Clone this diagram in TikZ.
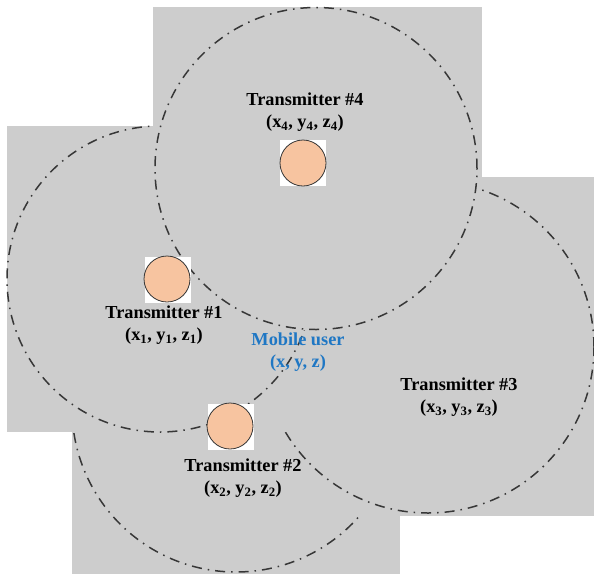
\documentclass[tikz,border=0pt]{standalone}
\usepackage{fontspec}
\setmainfont{Liberation Serif}
\definecolor{zonegray}{RGB}{205,205,205}
\definecolor{txfill}{RGB}{247,196,160}
\definecolor{ringcol}{RGB}{55,55,55}
\definecolor{mobcol}{RGB}{31,119,196}
\begin{document}
\begin{tikzpicture}[x=1pt,y=-1pt,
  zone/.style={fill=zonegray, draw=none},
  ring/.style={draw=ringcol, line width=1.5pt, dash pattern=on 10pt off 6pt on 1.5pt off 6pt},
  txbg/.style={rectangle, fill=white, draw=none, minimum size=46pt, inner sep=0pt},
  txc/.style={circle, fill=txfill, draw=ringcol, line width=0.8pt, minimum size=46pt, inner sep=0pt},
  lbl/.style={font=\bfseries\fontsize{18.3}{22.5}\selectfont, align=center, inner sep=0pt}
]
\useasboundingbox (0,0) rectangle (594,574);
% zone 2 (bottom)
\fill[zone] (72,244) rectangle (400,574);
\draw[ring] (236,408) circle[radius=164pt];
% zone 3
\fill[zone] (262,177) rectangle (594,516);
\draw[ring] (428,347) circle[radius=166pt];
% zone 1
\fill[zone] (7,126) rectangle (313,432);
\draw[ring] (160,279) circle[radius=153pt];
% zone 4
\fill[zone] (153,7) rectangle (482,330);
\draw[ring] (316,168.5) circle[radius=161pt];
% transmitters
\node[txbg] (b4) at (303,163) {};
\node[txc] (t4) at (303,163) {};
\node[txbg] (b1) at (168,280) {};
\node[txc] (t1) at (167,279) {};
\node[txbg] (b2) at (231,427) {};
\node[txc] (t2) at (230,426) {};
% labels
\node[lbl] (l4) at (305,112) {Transmitter \#4\\(x\textsubscript{4}, y\textsubscript{4}, z\textsubscript{4})};
\node[lbl] (l1) at (164,325) {Transmitter \#1\\(x\textsubscript{1}, y\textsubscript{1}, z\textsubscript{1})};
\node[lbl, text=mobcol] (lm) at (298,352) {Mobile user\\(x, y, z)};
\node[lbl] (l3) at (459,397) {Transmitter \#3\\(x\textsubscript{3}, y\textsubscript{3}, z\textsubscript{3})};
\node[lbl] (l2) at (243,478) {Transmitter \#2\\(x\textsubscript{2}, y\textsubscript{2}, z\textsubscript{2})};
\end{tikzpicture}
\end{document}
